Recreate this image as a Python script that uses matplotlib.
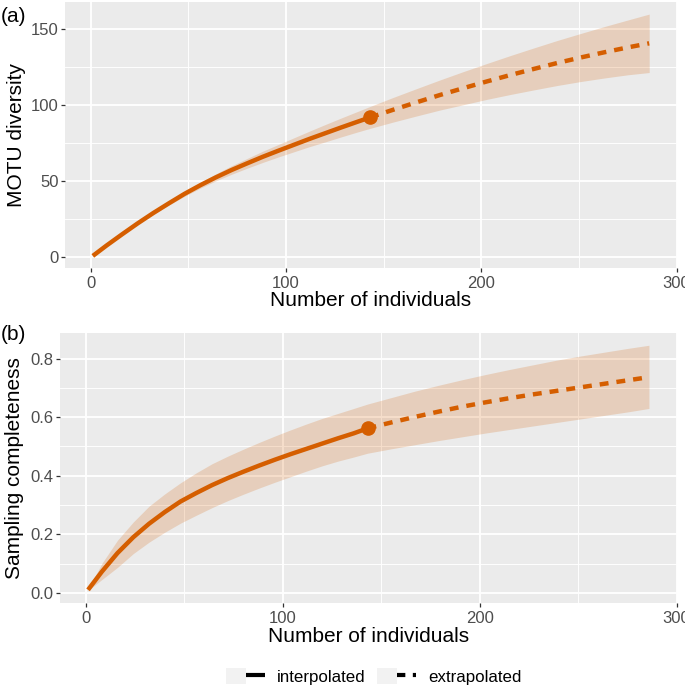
import numpy as np
import matplotlib
matplotlib.use("Agg")
import matplotlib.pyplot as plt
from matplotlib.lines import Line2D
from matplotlib.patches import Patch
from matplotlib.legend_handler import HandlerTuple

plt.rcParams['font.family'] = ['Liberation Sans', 'DejaVu Sans']

# ---------------- data ----------------
x_interp = [1, 8, 16, 24, 32, 40, 48, 56, 64, 72, 80, 88, 96, 104, 112, 120, 128, 136, 143]
x_extrap = [143, 155, 167, 179, 191, 203, 215, 227, 239, 251, 263, 275, 286]

div_interp = [1.0, 7.8, 15.2, 22.4, 29.2, 35.6, 41.8, 47.4, 52.6, 57.4, 61.8, 66.1, 70.1,
              74.0, 77.9, 81.6, 85.3, 88.9, 92.0]
div_interp_lo = [1.0, 7.7, 14.9, 21.8, 28.3, 34.4, 40.2, 45.5, 50.3, 54.6, 58.6, 62.4, 66.0,
                 69.4, 72.8, 75.9, 79.1, 82.2, 84.8]
div_interp_hi = [1.0, 7.9, 15.5, 23.0, 30.1, 36.8, 43.4, 49.3, 54.9, 60.2, 65.0, 69.8, 74.2,
                 78.6, 83.0, 87.3, 91.5, 95.6, 99.2]
div_extrap = [92.0, 97.1, 102.0, 106.8, 111.3, 115.7, 119.9, 123.9, 127.8, 131.4, 134.8, 138.0, 140.7]
div_extrap_lo = [84.8, 89.0, 93.0, 96.9, 100.4, 103.9, 107.1, 110.1, 113.0, 115.6, 117.9, 120.0, 121.5]
div_extrap_hi = [99.2, 105.2, 111.0, 116.7, 122.2, 127.5, 132.7, 137.7, 142.6, 147.2, 151.7, 156.0, 159.9]

cov_interp = [0.010, 0.072, 0.136, 0.190, 0.236, 0.276, 0.312, 0.341, 0.368, 0.392, 0.414,
              0.435, 0.455, 0.474, 0.492, 0.510, 0.528, 0.545, 0.562]
cov_interp_lo = [0.008, 0.045, 0.087, 0.134, 0.173, 0.207, 0.238, 0.265, 0.291, 0.315, 0.337,
                 0.358, 0.378, 0.397, 0.416, 0.434, 0.450, 0.464, 0.477]
cov_interp_hi = [0.012, 0.100, 0.180, 0.242, 0.296, 0.338, 0.376, 0.410, 0.441, 0.467, 0.491,
                 0.514, 0.536, 0.557, 0.577, 0.596, 0.613, 0.630, 0.645]
cov_extrap = [0.562, 0.582, 0.601, 0.619, 0.636, 0.651, 0.665, 0.678, 0.690, 0.702, 0.714, 0.726, 0.737]
cov_extrap_lo = [0.477, 0.492, 0.506, 0.520, 0.533, 0.546, 0.558, 0.570, 0.582, 0.594, 0.606, 0.618, 0.630]
cov_extrap_hi = [0.645, 0.667, 0.689, 0.709, 0.728, 0.746, 0.763, 0.779, 0.795, 0.809, 0.822, 0.835, 0.846]

observed_n = 143
observed_div = 92.0
observed_cov = 0.562

x_ticks = [0, 100, 200, 300]
x_minor = [50, 150, 250]
div_ticks = [0, 50, 100, 150]
div_minor = [25, 75, 125]
cov_ticks = [0.0, 0.2, 0.4, 0.6, 0.8]
cov_minor = [0.1, 0.3, 0.5, 0.7]

x_title = "Number of individuals"
div_title = "MOTU diversity"
cov_title = "Sampling completeness"
legend_labels = ["interpolated", "extrapolated"]

# ---------------- style ----------------
COL = "#D55E00"
BG = "#EBEBEB"
W, H = 685, 688
fig = plt.figure(figsize=(W / 100, H / 100), dpi=100)

def px_rect(l, t, r, b):
    return [l / W, 1 - b / H, (r - l) / W, (b - t) / H]

def style(ax, yt, ymin, ylab, y_title, xlab_y, ylab_x):
    ax.set_facecolor(BG)
    for s in ax.spines.values():
        s.set_visible(False)
    ax.set_xticks(x_ticks)
    ax.set_xticks(x_minor, minor=True)
    ax.set_yticks(yt)
    ax.set_yticks(ymin, minor=True)
    ax.set_yticklabels(ylab)
    ax.grid(which='major', color='white', linewidth=1.3)
    ax.grid(which='minor', color='white', linewidth=0.65)
    ax.set_axisbelow(True)
    ax.tick_params(which='major', length=3, width=0.9, color='#333333',
                   labelcolor='#4D4D4D', labelsize=12)
    ax.tick_params(axis='x', which='major', pad=3.0)
    ax.tick_params(axis='y', which='major', pad=1.5)
    ax.tick_params(which='minor', length=0)
    ax.set_xlabel(x_title, fontsize=15, va='center')
    ax.xaxis.set_label_coords(0.5, xlab_y)
    ax.set_ylabel(y_title, fontsize=15, va='center')
    ax.yaxis.set_label_coords(ylab_x, 0.5)

def panel(ax, yi, ylo_i, yhi_i, ye, ylo_e, yhi_e, yobs):
    xb = x_interp + x_extrap[1:]
    lo = ylo_i + ylo_e[1:]
    hi = yhi_i + yhi_e[1:]
    ax.fill_between(xb, lo, hi, color=COL, alpha=0.2, linewidth=0, zorder=2)
    ax.plot(x_interp, yi, color=COL, lw=3.2, solid_capstyle='butt',
            solid_joinstyle='round', zorder=3)
    ax.plot(x_extrap, ye, color=COL, lw=3.2, dashes=(2.0, 1.8), dash_capstyle='butt', zorder=3)
    ax.plot([observed_n], [yobs], 'o', color=COL, ms=9.5, zorder=4)
    xmin, xmax = min(x_interp), max(x_extrap)
    xp = 0.05 * (xmax - xmin)
    ax.set_xlim(xmin - xp, xmax + xp)
    ymn = min(lo + yi)
    ymx = max(hi + ye)
    yp = 0.05 * (ymx - ymn)
    ax.set_ylim(ymn - yp, ymx + yp)

ax_a = fig.add_axes(px_rect(65, 2, 677, 268))
panel(ax_a, div_interp, div_interp_lo, div_interp_hi,
      div_extrap, div_extrap_lo, div_extrap_hi, observed_div)
style(ax_a, div_ticks, div_minor, [str(v) for v in div_ticks], div_title,
      (268 - 301) / 266, (16 - 65) / 612)

ax_b = fig.add_axes(px_rect(60, 333, 677, 602.7))
panel(ax_b, cov_interp, cov_interp_lo, cov_interp_hi,
      cov_extrap, cov_extrap_lo, cov_extrap_hi, observed_cov)
style(ax_b, cov_ticks, cov_minor, [f"{v:.1f}" for v in cov_ticks], cov_title,
      (602.7 - 636) / 269.7, (15 - 60) / 617)

fig.text(1 / W, 1 - 17 / H, "(a)", fontsize=15, ha='left', va='center')
fig.text(1 / W, 1 - 334 / H, "(b)", fontsize=15, ha='left', va='center')

h1 = (Patch(facecolor='#F2F2F2', edgecolor='none'),
      Line2D([], [], color='black', lw=3.0, solid_capstyle='butt'))
h2 = (Patch(facecolor='#F2F2F2', edgecolor='none'),
      Line2D([], [], color='black', lw=3.0, dashes=(2.0, 1.8), dash_capstyle='butt'))
fig.legend([h1, h2], legend_labels, loc='center',
           bbox_to_anchor=(374 / W, 1 - 676.7 / H), ncol=2, frameon=False,
           fontsize=12.2, handlelength=2.3, handleheight=1.07,
           handletextpad=0.69, columnspacing=0.69, borderpad=0, borderaxespad=0,
           handler_map={tuple: HandlerTuple(ndivide=None, pad=0)})

fig.savefig("out.png", dpi=100)
